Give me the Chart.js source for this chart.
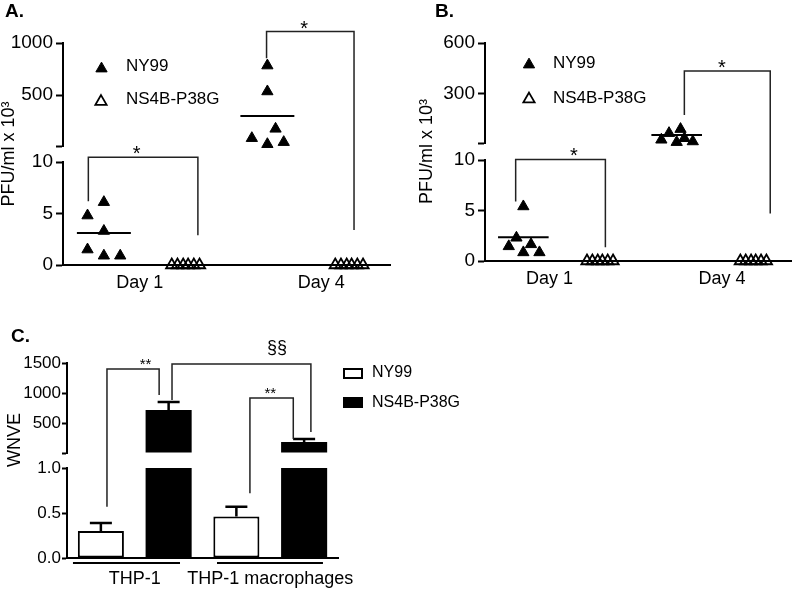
<!DOCTYPE html>
<html>
<head>
<meta charset="utf-8">
<script src="https://cdn.jsdelivr.net/npm/chart.js@4.4.1/dist/chart.umd.min.js"></script>
<style>
  body { margin: 0; background: #fff; }
  #fig { position: relative; width: 800px; height: 591px; overflow: hidden; background: #fff;
         font-family: 'Liberation Sans', Arial, sans-serif; }
  canvas { position: absolute; }
  .panel { position: absolute; font-weight: bold; font-size: 19px; line-height: 1; color: #000; }
</style>
</head>
<body>
<div id="fig">
  <canvas id="chartA" width="400" height="295" style="left:0;top:0"></canvas>
  <canvas id="chartB" width="400" height="295" style="left:400px;top:0"></canvas>
  <canvas id="chartC" width="800" height="296" style="left:0;top:295px"></canvas>
  <div class="panel" style="left:5px;top:1px">A.</div>
  <div class="panel" style="left:435px;top:1px">B.</div>
  <div class="panel" style="left:11px;top:326px">C.</div>
</div>
<script>
// ---------- data, panel A (PFU/ml x 10^3) ----------
const dayLabels = ['Day 1', 'Day 4'];
const dayTicksA = [0.44, 2.66];
const ny99Day1A = [4.8, 6.1, 3.3, 1.5, 0.9, 0.9];
const ny99Day1JitA = [-0.2, 0, 0, -0.2, 0, 0.2];
const ny99Day4A = [783, 534, 175, 85, 27, 47];
const ny99Day4JitA = [0, 0, 0.1, -0.19, 0, 0.2];
const mutDay1A = [0, 0, 0, 0, 0, 0];
const mutDay4A = [0, 0, 0, 0, 0, 0];
const ny99MeanA = [3.1, 298];
const yLowTicksA = [0, 5, 10];
const yHighTicksA = [10, 500, 1000];

// ---------- data, panel B ----------
const dayTicksB = [0.34, 2.59];
const ny99Day1B = [5.4, 2.3, 1.45, 1.65, 0.85, 0.85];
const ny99Day1JitB = [0, -0.09, -0.19, 0.1, 0, 0.21];
const ny99Day4B = [29, 68, 15, 92, 38, 19];
const ny99Day4JitB = [-0.2, -0.1, 0, 0.05, 0.1, 0.21];
const mutDay1B = [0, 0, 0, 0, 0, 0];
const mutDay4B = [0, 0, 0, 0, 0, 0];
const ny99MeanB = [2.35, 57];
const yLowTicksB = [0, 5, 10];
const yHighTicksB = [10, 300, 600];

// open triangles sit side by side on zero
const mutJit = [-0.17, -0.1, -0.03, 0.03, 0.1, 0.17];

// ---------- data, panel C (WNVE) ----------
const cellLines = ['THP-1', 'THP-1 macrophages'];
const wnveNY99 = [0.30, 0.46];
const wnveNY99Err = [0.39, 0.57];
const wnveMut = [717, 183];
const wnveMutErr = [850, 233];
const yLowTicksC = [0, 0.5, 1];
const yHighTicksC = [0, 500, 1000, 1500];
const groupLinesC = [[-0.456, 0.334], [-0.393, 0.389]];

// significance brackets (x in axis units, y on the given scale)
const sigA = [
  { x1: -0.19, y1: 6.2, a1: 'yLow', top: 10.45, at: 'yLow', x2: 1.15, y2: 2.9, a2: 'yLow', text: '*', tx: 0.40 },
  { x1: 1.99, y1: 853, a1: 'yHigh', top: 1110, at: 'yHigh', x2: 3.06, y2: 3.4, a2: 'yLow', text: '*', tx: 2.45 }
];
const sigB = [
  { x1: -0.1, y1: 5.9, a1: 'yLow', top: 10.05, at: 'yLow', x2: 1.07, y2: 1.36, a2: 'yLow', text: '*', tx: 0.66 },
  { x1: 2.1, y1: 175, a1: 'yHigh', top: 435, at: 'yHigh', x2: 3.22, y2: 4.7, a2: 'yLow', text: '*', tx: 2.59 }
];
const sigC = [
  { x1: -0.205, y1: 0.57, a1: 'yLow', top: 1400, at: 'yHigh', x2: 0.18, y2: 967, a2: 'yHigh', text: '**', tx: 0.08 },
  { x1: 0.85, y1: 0.72, a1: 'yLow', top: 917, at: 'yHigh', x2: 1.17, y2: 233, a2: 'yHigh', text: '**', tx: 1.0 },
  { x1: 0.275, y1: 883, a1: 'yHigh', top: 1483, at: 'yHigh', x2: 1.3, y2: 350, a2: 'yHigh', text: '§§', tx: 1.05 }
];

const FONT = "'Liberation Sans', Arial, sans-serif";
Chart.defaults.font.family = FONT;
Chart.defaults.color = '#000';

const sigStyle = { '*': { size: 20, lift: -3 }, '**': { size: 15, lift: 0 }, '§§': { size: 18, lift: 11 } };

function drawTri(ctx, cx, cy, r, filled) {
  ctx.beginPath();
  ctx.moveTo(cx, cy - 0.75 * r);
  ctx.lineTo(cx + 0.866 * r, cy + 0.75 * r);
  ctx.lineTo(cx - 0.866 * r, cy + 0.75 * r);
  ctx.closePath();
  if (filled) { ctx.fillStyle = '#000'; ctx.fill(); }
  ctx.lineWidth = filled ? 1 : 1.8;
  ctx.strokeStyle = '#000';
  ctx.stroke();
}

// brackets, legends, error bars, group lines
const extras = {
  id: 'extras',
  afterDraw(chart, args, o) {
    const ctx = chart.ctx;
    const xs = chart.scales.x;
    ctx.save();
    (o.errors || []).forEach(e => {
      const meta = chart.getDatasetMeta(e.ds);
      const ys = chart.scales[meta.yAxisID];
      meta.data.forEach((bar, i) => {
        const yt = ys.getPixelForValue(e.tops[i]);
        ctx.beginPath();
        ctx.moveTo(bar.x, bar.y);
        ctx.lineTo(bar.x, yt);
        ctx.moveTo(bar.x - 11, yt);
        ctx.lineTo(bar.x + 11, yt);
        ctx.lineWidth = 2.5;
        ctx.strokeStyle = '#000';
        ctx.stroke();
      });
    });
    (o.brackets || []).forEach(b => {
      const x1 = xs.getPixelForValue(b.x1), x2 = xs.getPixelForValue(b.x2);
      const y1 = chart.scales[b.a1].getPixelForValue(b.y1);
      const yt = chart.scales[b.at].getPixelForValue(b.top);
      const y2 = chart.scales[b.a2].getPixelForValue(b.y2);
      ctx.beginPath();
      ctx.moveTo(x1, y1); ctx.lineTo(x1, yt); ctx.lineTo(x2, yt); ctx.lineTo(x2, y2);
      ctx.lineWidth = 1.5;
      ctx.strokeStyle = '#222';
      ctx.stroke();
      const st = sigStyle[b.text];
      ctx.font = st.size + 'px ' + FONT;
      ctx.fillStyle = '#000';
      ctx.textAlign = 'center';
      ctx.textBaseline = 'alphabetic';
      ctx.fillText(b.text, xs.getPixelForValue(b.tx), yt - st.lift);
    });
    (o.groupLines || []).forEach((g, i) => {
      const y = chart.chartArea.bottom + 5;
      ctx.beginPath();
      ctx.moveTo(xs.getPixelForValue(i + g[0]), y);
      ctx.lineTo(xs.getPixelForValue(i + g[1]), y);
      ctx.lineWidth = 2;
      ctx.strokeStyle = '#000';
      ctx.stroke();
    });
    (o.legend || []).forEach(l => {
      if (l.mark === 'triFill' || l.mark === 'triOpen') {
        drawTri(ctx, l.mx, l.my, 6.5, l.mark === 'triFill');
      } else {
        ctx.fillStyle = l.mark === 'boxFill' ? '#000' : '#fff';
        ctx.fillRect(l.mx, l.my, 20, 11);
        ctx.lineWidth = 2;
        ctx.strokeStyle = '#000';
        ctx.strokeRect(l.mx + 1, l.my + 1, 18, 9);
      }
      ctx.font = l.size + 'px ' + FONT;
      ctx.fillStyle = '#000';
      ctx.textAlign = 'left';
      ctx.textBaseline = 'middle';
      ctx.fillText(l.text, l.tx, l.ty);
    });
    if (o.yTitle) {
      const t = o.yTitle;
      ctx.translate(t.x, t.y);
      ctx.rotate(-Math.PI / 2);
      ctx.font = t.size + 'px ' + FONT;
      ctx.fillStyle = '#000';
      ctx.textAlign = 'center';
      ctx.textBaseline = 'middle';
      ctx.fillText(t.text, 0, 0);
    }
    ctx.restore();
  }
};

function yPart(weight, min, max, ticks, fmt, size, t) {
  return {
    type: 'linear', position: 'left', stack: 'y', stackWeight: weight, min: min, max: max, stacked: false,
    afterBuildTicks: ax => { ax.ticks = ticks.map(v => ({ value: v })); },
    ticks: { font: { size: size }, color: '#000', padding: t.pad, callback: fmt, autoSkip: false },
    grid: { display: true, drawOnChartArea: false, drawTicks: true, tickLength: t.len, tickWidth: 2, tickColor: '#000' },
    border: { display: true, color: '#000', width: 2 },
    afterFit: s => { s.width = t.w; }
  };
}

function yGap(weight, w, title) {
  return {
    type: 'linear', position: 'left', stack: 'y', stackWeight: weight, min: 0, max: 1,
    ticks: { display: false }, grid: { display: false }, border: { display: false },
    title: title || { display: false },
    afterFit: s => { s.width = w; }
  };
}

function dayAxis(tickVals, pad, h) {
  return {
    type: 'linear', min: -0.5, max: 3.5,
    afterBuildTicks: ax => { ax.ticks = tickVals.map(v => ({ value: v })); },
    ticks: { callback: (v, i) => dayLabels[i], font: { size: 18 }, color: '#000', padding: pad, maxRotation: 0, autoSkip: false },
    grid: { display: false, drawTicks: false },
    border: { display: true, color: '#000', width: 2 },
    afterFit: s => { s.height = h; }
  };
}

function triSet(vals, jit, cat, axis, open) {
  return {
    data: vals.map((v, i) => ({ x: cat + jit[i], y: v })),
    yAxisID: axis,
    pointStyle: 'triangle', pointRadius: 6.5, pointHoverRadius: 6.5,
    pointBackgroundColor: open ? 'rgba(255,255,255,0)' : '#000',
    pointBorderColor: '#000', pointBorderWidth: open ? 1.8 : 1,
    showLine: false, clip: false
  };
}

function meanSet(m, cat, axis) {
  return {
    data: [{ x: cat - 0.33, y: m }, { x: cat + 0.33, y: m }],
    yAxisID: axis, showLine: true, pointRadius: 0, pointHoverRadius: 0,
    borderColor: '#000', borderWidth: 2, clip: false
  };
}

const common = {
  responsive: false, animation: false, events: [], devicePixelRatio: 1
};

function makeScatter(id, d) {
  return new Chart(document.getElementById(id), {
    type: 'scatter',
    data: {
      datasets: [
        triSet(d.ny1, d.jit1, 0, 'yLow', false),
        triSet(d.mut1, mutJit, 1, 'yLow', true),
        triSet(d.ny4, d.jit4, 2, 'yHigh', false),
        triSet(d.mut4, mutJit, 3, 'yLow', true),
        meanSet(d.mean[0], 0, 'yLow'),
        meanSet(d.mean[1], 2, 'yHigh')
      ]
    },
    options: Object.assign({}, common, {
      layout: { padding: { left: 0, top: 43, right: d.padRight, bottom: 0 } },
      scales: {
        x: dayAxis(d.dayTicks, 7, d.xh),
        yLow: yPart(d.w[2], 0, 10, d.lowTicks, v => String(v), 19, { len: 7, pad: 3, w: d.yw }),
        yGap: yGap(d.w[1], d.yw, {
          display: true, text: 'PFU/ml x 10³', font: { size: 18, lineHeight: 1 }, color: '#000',
          padding: { top: d.titlePad, bottom: 0 }
        }),
        yHigh: yPart(d.w[0], d.highTicks[0], d.highTicks[2], d.highTicks,
          v => (v === d.highTicks[0] ? '' : String(v)), 19, { len: 7, pad: 3, w: d.yw })
      },
      plugins: {
        legend: { display: false }, tooltip: { enabled: false },
        extras: { brackets: d.sig, legend: d.legend }
      }
    }),
    plugins: [extras]
  });
}

makeScatter('chartA', {
  ny1: ny99Day1A, jit1: ny99Day1JitA, mut1: mutDay1A, ny4: ny99Day4A, jit4: ny99Day4JitA, mut4: mutDay4A,
  mean: ny99MeanA, dayTicks: dayTicksA, lowTicks: yLowTicksA, highTicks: yHighTicksA, sig: sigA,
  w: [103, 16, 103], yw: 63, xh: 30, padRight: 10, titlePad: 0,
  legend: [
    { mark: 'triFill', mx: 101.5, my: 67, text: 'NY99', tx: 126, ty: 66, size: 17 },
    { mark: 'triOpen', mx: 101, my: 100, text: 'NS4B-P38G', tx: 126, ty: 99.5, size: 17 }
  ]
});

makeScatter('chartB', {
  ny1: ny99Day1B, jit1: ny99Day1JitB, mut1: mutDay1B, ny4: ny99Day4B, jit4: ny99Day4JitB, mut4: mutDay4B,
  mean: ny99MeanB, dayTicks: dayTicksB, lowTicks: yLowTicksB, highTicks: yHighTicksB, sig: sigB,
  w: [100, 17, 101], yw: 85, xh: 34, padRight: 0, titlePad: 18,
  legend: [
    { mark: 'triFill', mx: 129, my: 63, text: 'NY99', tx: 153, ty: 63, size: 17 },
    { mark: 'triOpen', mx: 129, my: 97.5, text: 'NS4B-P38G', tx: 153, ty: 98, size: 17 }
  ]
});

const barStyle = { categoryPercentage: 1, barPercentage: 0.68, borderSkipped: false };

new Chart(document.getElementById('chartC'), {
  type: 'bar',
  data: {
    labels: cellLines,
    datasets: [
      Object.assign({ label: 'NY99', data: wnveNY99, yAxisID: 'yLow', stack: 'ny',
        backgroundColor: '#fff', borderColor: '#000', borderWidth: 2 }, barStyle),
      Object.assign({ label: 'NS4B-P38G', data: wnveMut.map(v => Math.min(v, yLowTicksC[2])), yAxisID: 'yLow', stack: 'ns',
        backgroundColor: '#000', borderColor: '#000', borderWidth: 0 }, barStyle),
      Object.assign({ label: 'NS4B-P38G', data: wnveMut, yAxisID: 'yHigh', stack: 'ns',
        backgroundColor: '#000', borderColor: '#000', borderWidth: 0 }, barStyle)
    ]
  },
  options: Object.assign({}, common, {
    layout: { padding: { left: 0, top: 68, right: 462, bottom: 0 } },
    scales: {
      x: {
        type: 'category',
        ticks: { font: { size: 18 }, color: '#000', padding: 10, maxRotation: 0, autoSkip: false },
        grid: { display: false, drawTicks: false },
        border: { display: true, color: '#000', width: 2 },
        afterFit: s => { s.height = 33; }
      },
      yLow: yPart(90, 0, 1, yLowTicksC, v => v.toFixed(1), 17, { len: 5, pad: 1, w: 67 }),
      yGap: yGap(15, 67, null),
      yHigh: yPart(90, 0, 1500, yHighTicksC, v => (v === 0 ? '' : String(v)), 17, { len: 5, pad: 1, w: 67 })
    },
    plugins: {
      legend: { display: false }, tooltip: { enabled: false },
      extras: {
        errors: [{ ds: 0, tops: wnveNY99Err }, { ds: 2, tops: wnveMutErr }],
        brackets: sigC,
        groupLines: groupLinesC,
        legend: [
          { mark: 'boxOpen', mx: 343, my: 73, text: 'NY99', tx: 372, ty: 78, size: 16 },
          { mark: 'boxFill', mx: 343, my: 102, text: 'NS4B-P38G', tx: 372, ty: 108, size: 16 }
        ],
        yTitle: { text: 'WNVE', x: 15, y: 145, size: 18 }
      }
    }
  }),
  plugins: [extras]
});
</script>
</body>
</html>
